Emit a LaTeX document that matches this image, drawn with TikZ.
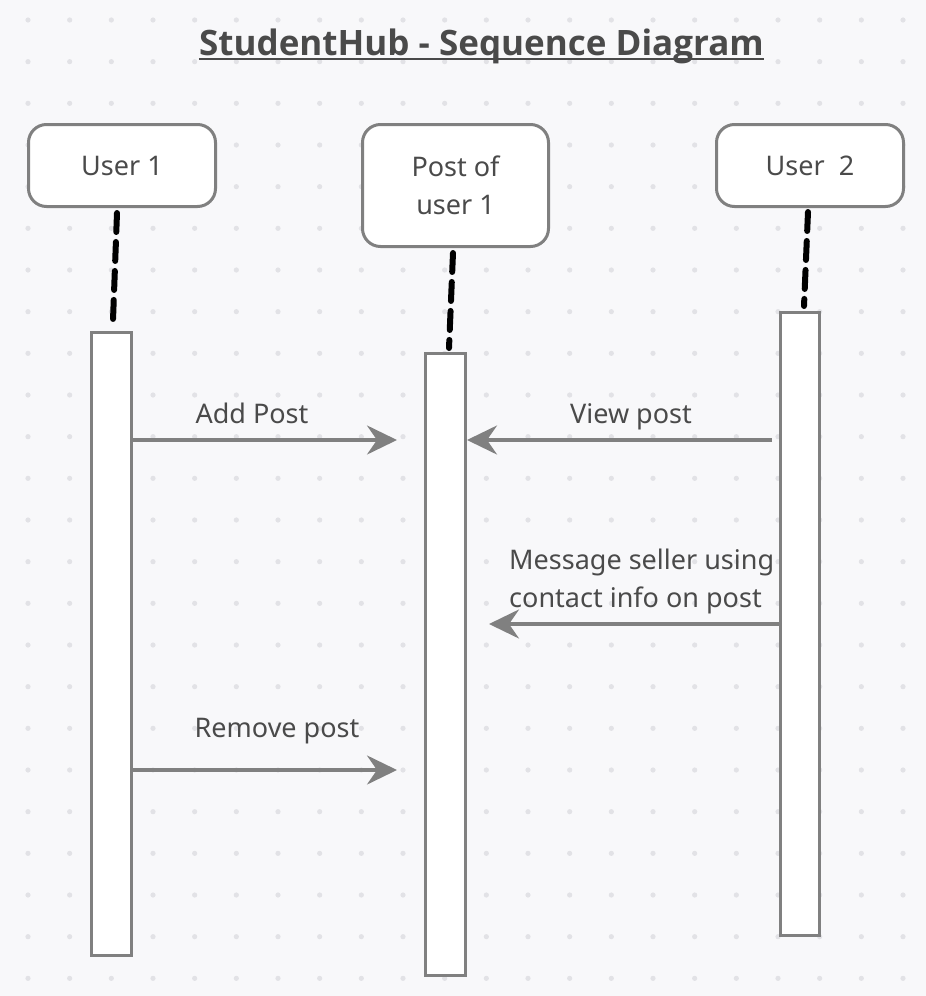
\documentclass[tikz,border=0pt]{standalone}
\usepackage{fontspec}
\setmainfont{Noto Sans}
\newfontfamily\titlefont{Open Sans}
\usetikzlibrary{arrows.meta}
\definecolor{bg}{HTML}{F8F8FA}
\definecolor{dotc}{HTML}{E2E2E6}
\definecolor{edge}{HTML}{808080}
\definecolor{txt}{HTML}{4A4A4A}
\begin{document}
\begin{tikzpicture}[x=1pt,y=-1pt,
 actor/.style={draw=edge, line width=3pt, fill=white, rounded corners=18pt, text=txt, font=\fontsize{27}{38}\selectfont, align=center, inner sep=0pt},
 actbox/.style={draw=edge, line width=3pt, fill=white, inner sep=0pt},
 life/.style={black, line width=6pt, line cap=round, dash pattern=on 19pt off 10pt},
 msg/.style={draw=edge, line width=3.5pt, -{Stealth[length=30pt,width=29pt,inset=10pt]}},
 lbl/.style={text=txt, font=\fontsize{27}{38}\selectfont, inner sep=0pt}
]
\fill[bg] (0,0) rectangle (926,996);
\useasboundingbox (0,0) rectangle (926,996);
\foreach \i in {0,...,21}
  \foreach \j in {0,...,23}
    \fill[dotc] ({28+41.667*\i},{20+41.667*\j}) circle (2.6pt);

% title
\node[anchor=base, text=txt, font=\titlefont\fontsize{35}{40}\selectfont\bfseries, inner sep=0pt] (title) at (481.5,55) {StudentHub - Sequence Diagram};
\draw[txt, line width=2.5pt] ([yshift=-4pt]title.base west) -- ([yshift=-4pt]title.base east);

% actors
\node[actor, minimum width=187pt, minimum height=82pt] (u1) at (122,165.5) {User 1};
\node[actor, minimum width=186pt, minimum height=122pt] (p) at (455.5,185.5) {Post of\\user 1};
\node[actor, minimum width=187pt, minimum height=82pt] (u2) at (810,165.5) {User\ \ 2};

% activation boxes
\node[actbox, minimum width=40pt, minimum height=623pt] (a1) at (111.5,644) {};
\node[actbox, minimum width=40pt, minimum height=622pt] (a2) at (445.5,664.5) {};
\node[actbox, minimum width=39pt, minimum height=623pt] (a3) at (800,624) {};

% lifelines
\coordinate (l1t) at (117,213);
\coordinate (l1b) at (113,320);
\coordinate (l2t) at (453,253);
\coordinate (l2b) at (449,348);
\coordinate (l3t) at (808,212);
\coordinate (l3b) at (804,306);
\draw[life] (l1t) -- (l1b);
\draw[life] (l2t) -- (l2b);
\draw[life] (l3t) -- (l3b);

% messages
\coordinate (addE) at (397,440);
\coordinate (viewS) at (772,440);
\coordinate (msgS) at (779,624);
\coordinate (msgE) at (489,624);
\coordinate (remE) at (397,770);
\draw[msg] (a1.east |- addE) -- (addE);
\draw[msg] (viewS) -- (a2.east |- viewS);
\draw[msg] (a3.west |- msgS) -- (msgE);
\draw[msg] (a1.east |- remE) -- (remE);

% labels
\node[lbl, anchor=base] (addL) at (252,423) {Add Post};
\node[lbl, anchor=base] (viewL) at (631,423) {View post};
\node[lbl, anchor=base west, align=left] (msgL) at (509,607) {Message seller using\\contact info on post};
\node[lbl, anchor=base] (remL) at (277,737) {Remove post};
\end{tikzpicture}
\end{document}
